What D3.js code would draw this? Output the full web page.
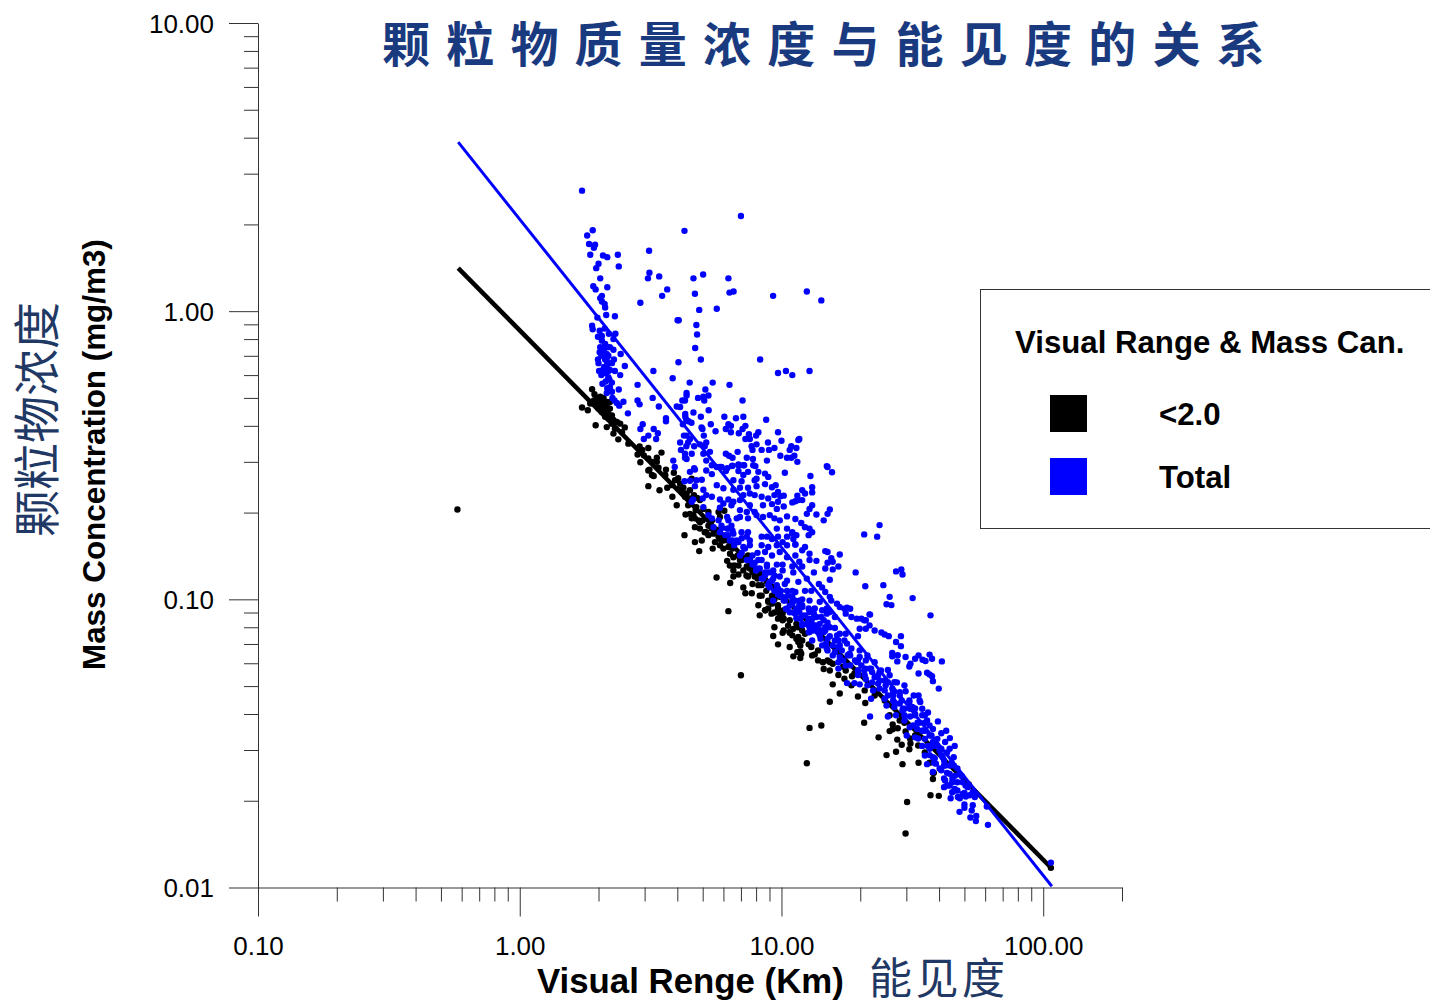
<html lang="en">
<head>
<meta charset="utf-8">
<title>颗粒物质量浓度与能见度的关系</title>
<script src="https://d3js.org/d3.v7.min.js"></script>
<style>
  html, body { margin: 0; padding: 0; background: #fff; overflow: hidden; }
  svg { display: block; }
  text { font-family: "Liberation Sans", Arial, sans-serif; fill: #000; }
  .cjk { font-family: "Noto Sans CJK SC", sans-serif; }
</style>
</head>
<body>
<svg id="chart" width="1430" height="1007"></svg>
<script>
// Values: [visual range km, mass concentration mg/m3]
const below2Points = [
[0.578,0.205],[7.0,0.0545],
[1.89,0.536],[1.93,0.515],[1.73,0.463],[1.82,0.453],[1.95,0.402],[1.86,0.478],[1.92,0.49],
[1.97,0.50],[2.03,0.505],[2.09,0.50],[2.15,0.484],[2.21,0.484],[1.97,0.478],[2.03,0.484],[2.09,0.478],[2.15,0.465],[2.21,0.459],[2.0,0.459],[2.06,0.465],[2.12,0.447],[2.06,0.447],[2.18,0.441],[2.25,0.435],[2.12,0.43],[2.18,0.424],[2.28,0.419],[2.35,0.413],[2.25,0.407],[2.42,0.407],[2.52,0.395],[2.15,0.396],[2.31,0.391],[2.46,0.38],[2.28,0.376],[2.38,0.359],[2.6,0.347],
[2.87,0.339],[3.1,0.335],[2.94,0.33],[2.82,0.318],[3.48,0.323],[3.34,0.31],[3.1,0.308],[3.2,0.3],[2.89,0.299],[3.39,0.286],[3.62,0.282],[3.13,0.282],
[2.98,0.316],[3.34,0.3],[3.1,0.28],[3.2,0.27],[3.25,0.268],[3.88,0.275],[3.1,0.247],[3.42,0.239],[3.66,0.244],[3.83,0.227],[3.98,0.212],
[3.92,0.259],[4.1,0.252],[4.22,0.244],[4.04,0.242],[4.16,0.236],[4.34,0.233],[4.28,0.227],[4.47,0.224],[4.54,0.262],[4.76,0.225],
[4.3,0.197],[4.47,0.198],[4.67,0.191],[4.88,0.185],[4.54,0.191],[4.73,0.209],[5.03,0.206],[5.26,0.201],[4.61,0.196],[4.82,0.188],
[4.67,0.178],[4.88,0.176],[5.09,0.171],[5.26,0.167],[4.26,0.167],[4.67,0.158],[4.96,0.16],[4.85,0.147],[5.57,0.158],[5.46,0.15],[5.75,0.165],
[5.75,0.201],[6.05,0.203],[5.82,0.193],[6,0.15],[6.2,0.136],[6.35,0.131],[6.55,0.126],[6.85,0.131],[7.15,0.126],[7.57,0.128],[7.9,0.12],[7.57,0.137],
[5.65,0.119],[6.37,0.114],[6.55,0.12],[6.85,0.122],[7.45,0.12],[7.75,0.113],[8.16,0.112],[7.15,0.11],[7.28,0.105],[7.7,0.105],[8.4,0.103],[6.27,0.091],
[8.16,0.0954],[8.65,0.0916],[8.26,0.088],[9.2,0.0966],[8.9,0.099],[9.4,0.1],[9.7,0.093],[10.2,0.0916],[9.85,0.0868],[9.7,0.0857],[9.4,0.08],[10.2,0.078],[9.3,0.0746],[10.75,0.077],[11.4,0.073],
[10.1,0.0892],[10.75,0.0846],[11.4,0.0822],[12,0.078],[6.55,0.14],[6.94,0.137],[7.37,0.13],[7.8,0.126],[8.26,0.123],[8.8,0.115],[9.3,0.11],[9.85,0.102],
[5.16,0.171],[5.42,0.176],[5.5,0.169],[5.82,0.162],[6,0.16],[5.82,0.154],[6.27,0.152],
[8.9,0.098],[8.67,0.0916],[9.16,0.0892],[10.75,0.0765],[11,0.075],[9.7,0.0698],[10.75,0.0683],[11.6,0.0711],[11.8,0.0692],[11.5,0.0656],[11.9,0.0648],[11.1,0.0634],[11.8,0.0626],[13.4,0.0644],
[14.5,0.0573],[15.7,0.0507],[16.7,0.0471],[15.3,0.0441],[19.6,0.046],[20.9,0.0437],[18.6,0.0541],[19.6,0.0566],[15,0.0614],[15.7,0.0598],[17.6,0.0566],
[12.8,0.0358],[14.2,0.0365],[12.5,0.027],[20.7,0.0373],[23.5,0.0332],[26.6,0.0368],[27.8,0.0357],[25.9,0.0349],[26.6,0.0354],[27.7,0.0326],[28.8,0.0313],[30.8,0.0302],[31.1,0.0316],[27.4,0.0296],[25.2,0.0288],[29,0.0268],[33.4,0.0271],[29.8,0.0348],[32.4,0.0337],[37.9,0.0238],[37.9,0.0250],[37.1,0.0209],[39.9,0.0208],[30.2,0.0198],[29.8,0.0154],[107,0.0117],[52,0.0228],
[9.85,0.0892],[10.2,0.0857],[11.6,0.08],[12.3,0.076],[13,0.0683],[13.8,0.0665],[15.3,0.0606],[17.2,0.0584],[19,0.0553],
[3.6,0.27],[4.47,0.239],[4.03,0.263],[3.82,0.249],[4.4,0.212],[4.63,0.23],[4.88,0.221],[4.7,0.204],[5,0.188],[5.26,0.18],[5.43,0.188],[5.68,0.174],[5.92,0.167],[6.25,0.16],[6.5,0.15],[6.36,0.144],[6.8,0.142],[7.05,0.137],[7.45,0.142],[6.6,0.131],[7.35,0.121],[7.75,0.124],[8.1,0.118],[8.4,0.112],[8.75,0.107],[8.26,0.103],[9.2,0.103],[8.9,0.093],[9.7,0.0954],[9.4,0.09],[10.1,0.0846],[10.6,0.081],[10.1,0.0765],[11.1,0.079],[11.6,0.074],[12,0.072],[11.8,0.066],[12.7,0.0698],[13.1,0.0639],[13.8,0.0614],[14.4,0.0605],[15.3,0.0566],[16.5,0.0546],[17.4,0.053],[18.5,0.0503],[20.8,0.0483],[22.7,0.0464],[24.8,0.0446],[25.9,0.0396],[28.3,0.038],[29.5,0.0373],[31,0.0329],[33.3,0.0311],[35.3,0.0294],[36.8,0.0271],[38.2,0.025]
];

const totalPoints = [
[1.73,2.62],[7.0,2.14],[1.90,1.91],[1.81,1.83],[4.26,1.9],[1.84,1.71],[1.94,1.70],[1.92,1.66],[3.12,1.62],[1.86,1.57],[2.08,1.56],[2.16,1.54],[2.37,1.57],[2.0,1.46],[2.39,1.43],[1.96,1.41],[3.13,1.36],[3.09,1.30],[3.41,1.32],[5.02,1.34],[4.61,1.30],[6.27,1.30],[2.03,1.30],[6.33,1.16],[6.56,1.17],[4.67,1.15],[9.29,1.13],[12.5,1.17],[14.2,1.09],[3.66,1.19],[3.50,1.13],[2.89,1.07],
[1.91,1.22],[1.95,1.19],[2.16,1.21],[2.06,1.13],[2.03,1.11],[2.06,1.08],[2.11,1.06],[2.12,1.03],[5.66,1.02],[4.85,1.01],[2.14,0.97],[2.31,0.96],[1.98,0.95],[4.01,0.93],[4.05,0.93],[4.73,0.895],[1.89,0.89],[1.90,0.865],[2.02,0.855],[2.11,0.87],[2.19,0.835],[2.32,0.835],[4.76,0.83],[1.99,0.815],[2.06,0.82],[2.28,0.80],[2.06,0.79],[2.12,0.77],
[2.03,0.75],[2.10,0.74],[2.21,0.75],[2.15,0.75],[2.02,0.72],[2.08,0.72],[2.15,0.71],[2.28,0.735],[2.43,0.71],[4.68,0.745],[1.99,0.68],[2.0,0.66],[2.15,0.685],[2.29,0.68],[2.16,0.66],[2.25,0.66],[4.92,0.68],[8.29,0.68],[4.04,0.665],[2.52,0.645],[2.15,0.64],[2.01,0.62],[2.09,0.63],[2.21,0.625],[3.24,0.62],[2.31,0.62],[2.12,0.61],[2.18,0.59],[2.42,0.60],[9.7,0.61],[10.4,0.62],[11.0,0.60],[12.8,0.62],[3.84,0.585],[4.46,0.565],[5.46,0.565],[6.33,0.555],[2.07,0.56],[2.82,0.555],[2.25,0.565],
[2.05,0.7],[2.12,0.68],[2.18,0.7],[2.1,0.64],[2.2,0.66],[2.05,0.6],[2.18,0.62],[2.13,0.57],[2.2,0.58],[2.3,0.49],[2.26,0.5],[2.35,0.48],[2.4,0.47],
[2.21,0.545],[2.16,0.54],[2.39,0.535],[2.25,0.525],[2.15,0.52],[5.12,0.535],[4.34,0.52],[4.34,0.51],[5.26,0.51],[5.03,0.505],[3.22,0.50],[4.80,0.50],[5.07,0.49],[4.28,0.49],[4.18,0.49],[7.1,0.49],[2.82,0.49],[2.87,0.475],[2.49,0.485],[3.40,0.467],[3.98,0.467],[4.1,0.465],[5.27,0.453],[4.61,0.445],[4.29,0.44],[4.29,0.43],[2.59,0.442],[4.92,0.43],[6.05,0.43],[7.15,0.43],[6.7,0.425],[8.74,0.42],[3.62,0.425],[3.62,0.415],[4.33,0.42],[4.41,0.415],[4.53,0.41],[2.95,0.405],[2.89,0.39],[4.2,0.405],[5.37,0.405],[4.95,0.395],[4.99,0.39],
[6.27,0.405],[6.41,0.40],[6.13,0.39],[6.41,0.38],[7.28,0.40],[7.1,0.39],[6.87,0.377],[3.25,0.39],[3.37,0.377],[3.1,0.37],[3.32,0.36],[2.98,0.36],[5.6,0.383],[8.16,0.38],[8.0,0.37],[7.51,0.374],[7.28,0.36],[7.57,0.36],[9.7,0.38],[5.05,0.37],[4.34,0.37],[4.24,0.37],[4.47,0.36],[11.7,0.36],[11.6,0.357],[10.0,0.355],[4.1,0.35],[4.4,0.35],[4.33,0.34],[4.13,0.33],[4.88,0.345],[5.16,0.35],[5.09,0.34],[4.64,0.34],[8.88,0.35],[8.96,0.33],[9.4,0.335],[8.4,0.33],[8.03,0.345],[7.69,0.34],[7.75,0.33],[10.9,0.34],[11.4,0.335],[10.75,0.33],[6.8,0.325],[5.33,0.325],[5.03,0.32],[4.28,0.32],[4.54,0.32],[4.28,0.31],[4.34,0.307],[6.13,0.32],[6.3,0.315],[6.5,0.31],[7.37,0.31],[9.9,0.315],[10.5,0.31],[10.9,0.31],[11.2,0.315],[8.8,0.303],[7.78,0.307],[7.95,0.29],[11.5,0.30],[3.86,0.303],[3.91,0.288],[5.16,0.303],[14.9,0.29],[15.0,0.288],[5.42,0.292],[5.66,0.288],[5.9,0.288],[6.2,0.285],[4.64,0.285],[6.46,0.29],[6.85,0.292],[7.15,0.292],
[15.6,0.276],[10.3,0.275],[12.9,0.268],[13.1,0.245],[13.1,0.235],[12.0,0.239],[12.3,0.233],[11.5,0.229],[12.0,0.221],[11.6,0.221],[11.0,0.217],[11.3,0.219],[13.1,0.212],[12.8,0.206],[10.2,0.21],[15.3,0.205],[15.0,0.198],[13.6,0.197],[12.5,0.198],[14.5,0.188],[10.5,0.194],[11.3,0.19],[11.9,0.184],[12.3,0.178],[12.8,0.176],[13.1,0.171],[12.7,0.167],[9.6,0.176],[10.5,0.176],[10.1,0.158],[11.0,0.171],[11.1,0.162],[11.3,0.155],[20.7,0.168],[23.2,0.165],[23.7,0.181],
[16.7,0.143],[16.5,0.13],[15.7,0.127],[14.7,0.147],[15.0,0.146],[15.5,0.139],[15.0,0.134],[15.7,0.135],[14.7,0.128],[19.2,0.124],[20.9,0.111],[15.3,0.117],
[5.82,0.288],[6.5,0.291],[6.85,0.294],[7.2,0.292],[7.8,0.292],[4.47,0.277],[4.67,0.282],[5.16,0.28],[5.42,0.272],[6.13,0.279],[6.85,0.279],[7.45,0.277],[8.16,0.277],[8.65,0.273],[7.15,0.27],[8.03,0.262],[8.9,0.266],[6.55,0.259],[7.04,0.257],[7.9,0.259],[4.96,0.26],[4.73,0.259],[4.47,0.258],[4.26,0.257],[5.66,0.249],[6.0,0.243],[6.55,0.24],[6.94,0.244],[7.45,0.244],[8.03,0.247],[8.65,0.251],[9.2,0.245],[9.5,0.249],[4.67,0.247],[5.03,0.24],[9.7,0.236],[7.57,0.233],[7.9,0.23],[8.4,0.227],[8.9,0.224],[9.4,0.23],[9.9,0.228],[10.2,0.229],[7.15,0.23],[5.42,0.227],[5.16,0.23],[5.0,0.224],[5.82,0.222],[6.27,0.222],[6.55,0.218],[6.94,0.221],[4.54,0.218],[4.6,0.222],[5.03,0.209],[6.0,0.215],[6.44,0.212],[7.57,0.212],[8.5,0.212],[9.2,0.214],[9.7,0.218],[7.9,0.201],[9.6,0.206],[5.82,0.208],[6.94,0.204],[7.37,0.201],[8.5,0.193],[9.02,0.196],[9.4,0.191],[9.85,0.188],[6.2,0.193],[6.75,0.191],[5.26,0.196],[5.42,0.191],[5.75,0.188],[5.9,0.18],[6.27,0.188],[6.44,0.18],[6.94,0.193],[7.45,0.191],[8.03,0.196],
[5.5,0.178],[5.82,0.171],[6.2,0.176],[6.1,0.167],[6.35,0.160],[6.55,0.169],[7.04,0.171],[7.45,0.171],[7.37,0.165],[6.85,0.158],[7.15,0.152],[7.57,0.16],[8.4,0.165],[8.8,0.165],[9.2,0.162],[9.7,0.165],[10.5,0.165],[11,0.169],[11.4,0.167],[8.4,0.154],[8.9,0.152],[9.6,0.154],[10.5,0.154],[11.3,0.155],[12.3,0.152],[8.65,0.146],[9.2,0.142],[9.85,0.146],[10.5,0.14],[11.3,0.142],[12.0,0.148],[12.8,0.144],[7.37,0.137],[7.75,0.132],[8.16,0.137],[6.94,0.142],[8.8,0.132],[9.6,0.132],[10.1,0.132],[11,0.13],[11.7,0.135],[12.8,0.137],[13.6,0.136],[8.03,0.128],[8.65,0.124],[9.3,0.126],[10.1,0.126],[11.1,0.124],[12,0.13],[13.3,0.124],
[8.5,0.118],[9.2,0.116],[9.85,0.12],[10.5,0.116],[11.6,0.115],[12.5,0.118],[13.9,0.113],[14.3,0.11],[14.7,0.106],[15.3,0.102],[9.02,0.11],[9.7,0.109],[10.5,0.107],[11.3,0.106],[12.3,0.107],[13,0.107],[9.3,0.099],[10.1,0.102],[11,0.102],[11.7,0.099],[12.8,0.099],[14,0.098],[14.9,0.093],[15.5,0.099],[11,0.0966],[11.4,0.0928],[12,0.094],[12.8,0.0904],[13.3,0.0892],[14.3,0.0916],[14.9,0.0892],[11.3,0.0892],[12,0.0878],[12.7,0.0846],[13,0.0835],[14,0.0822],[14.7,0.08],[13.6,0.078],[12.8,0.08],[12,0.0822],
[16.7,0.094],[17.4,0.0928],[17.8,0.0936],[18.3,0.0928],[17.6,0.0892],[18.5,0.0868],[19.4,0.0857],[20.7,0.0846],[21.7,0.0887],[21,0.0791],[22.7,0.078],[19.9,0.0791],[16.7,0.076],[17.6,0.076],[19.6,0.0745],[15.3,0.0904],[16.3,0.0966],[16,0.0868],
[27.4,0.125],[28.7,0.127],[29,0.122],[24.5,0.112],[25.9,0.102],[31.7,0.101],[25.2,0.0961],[26.3,0.0955],[37.1,0.088],[21.8,0.0885],[20.2,0.0857],[21,0.0846],[21.7,0.0812],[24.1,0.0767],[24.8,0.0755],[25.7,0.0745],[28.6,0.0745],[27.4,0.0711],[28.6,0.0688],[26.5,0.0651],[26.5,0.0634],[27.8,0.064],[27.7,0.0609],[29.8,0.0631],[31.1,0.0598],[30.8,0.0585],[32.4,0.0622],[33.4,0.0639],[34.6,0.0617],[35.5,0.0611],[36.8,0.0643],[37.6,0.0622],[41,0.0609],[33.4,0.0553],[36,0.0556],[36.8,0.0549],[37.6,0.0541],[37.9,0.052],[39.9,0.049],[25.5,0.0569],
[11.1,0.099],[12,0.0954],[12.8,0.0916],[11.7,0.0904],[13.6,0.0868],[12.7,0.0857],[14.5,0.0846],[13.3,0.0812],[15.3,0.08],[12.8,0.077],[14.5,0.077],[16.3,0.075],[15,0.073],[14,0.075],[16.5,0.0683],[14.9,0.0674],[17.8,0.0702],[18.2,0.0648],[16.7,0.0631],[19.9,0.0631],[21,0.0614],[19.4,0.0606],[17.6,0.0589],[16.5,0.0575],[22,0.0575],[20.7,0.0566],[23.7,0.0559],[22.7,0.0537],[21,0.0529],[19.6,0.0546],[17.8,0.0512],[19,0.0512],[19.9,0.0507],[21.3,0.0503],[23.4,0.051],[25.5,0.0516],[27,0.0516],[24.8,0.0483],[22.4,0.0483],[26.7,0.0476],[28.3,0.0476],[29.8,0.048],[22,0.0452],[24.8,0.0452],[26.7,0.0446],[28.8,0.0446],[30.8,0.044],[33.4,0.0464],[33.9,0.044],[25.2,0.0428],[27,0.0423],[29.1,0.0417],[31.6,0.0423],[34.5,0.0417],[25.5,0.0392],[27.4,0.0396],[29.5,0.038],[32.4,0.04],[35.3,0.0396],[36,0.038],[21.8,0.0392],[30.9,0.036],[33,0.0355],[34.6,0.035],[37.9,0.0355],[39.6,0.0377],[40.8,0.0343],[42.6,0.035],[44,0.033],[45.9,0.031],[42.2,0.032],[30.1,0.0337],[32.4,0.0332],[35.3,0.0328],[37.9,0.032],[39.4,0.0328],[34.5,0.031],[36.8,0.0303],[40.8,0.0303],[43.9,0.0303],[35.3,0.0287],[37.9,0.0283],[41.3,0.0283],[45.5,0.0283],[36,0.0268],[38.9,0.0269],[42.2,0.0265],[45.5,0.0265],[37.9,0.0252],[40.8,0.0255],[43.9,0.0248],[47.9,0.0248],[42.2,0.0235],[44.9,0.0232],[49.2,0.0232],[41.8,0.0223],[45.9,0.022],[51.5,0.0223],[53.8,0.0214],[44.9,0.0214],[49.2,0.0211],[44.3,0.0204],[47.2,0.0206],[50.6,0.0207],[54.8,0.0206],[60.9,0.0191],[50.0,0.0194],[53.8,0.0193],[47.9,0.0183],[50,0.0189],[53.3,0.0185],[55.5,0.0177],[52.7,0.0175],[55.3,0.0170],[61.5,0.0165],[107,0.0122],
[5.92,0.177],[6.25,0.167],[6.5,0.173],[6.75,0.16],[7.05,0.163],[7.25,0.15],[7.57,0.154],[7.75,0.142],[8.1,0.145],[7.9,0.134],[8.4,0.137],[8.26,0.128],[8.8,0.13],[8.65,0.121],[9.0,0.124],[9.3,0.118],[9.0,0.115],[9.6,0.112],[9.4,0.121],[9.95,0.107],[9.7,0.104],[10.3,0.113],[10.6,0.103],[10.2,0.099],[11,0.107],[11.3,0.099],[10.75,0.095],[11.6,0.0916],[11.1,0.09],[12,0.1],[12.3,0.088],[11.8,0.0857],[12.7,0.093],[13.1,0.0857],[12.6,0.0818],[13.4,0.093],[13.8,0.0812],[13.2,0.078],[14.2,0.0868],[14.7,0.078],[14.1,0.073],[15,0.083],[15.3,0.0745],[14.8,0.0703],[15.7,0.0692],[16,0.0795],[16.5,0.072],[16,0.0655],[17,0.0665],[17.4,0.072],[17.9,0.064],[17.2,0.0614],[18.5,0.0675],[19.1,0.0614],[18.3,0.059],[19.9,0.0665],[20.2,0.059],[19.6,0.0566],[21.3,0.0639],[21.7,0.0575],[20.8,0.0545],[22.7,0.0605],[23.4,0.0545],[22.2,0.0515],[24,0.0566],[24.8,0.0523],[23.7,0.049],[25.9,0.0545],[26.5,0.049],[25.5,0.0464],[27.6,0.0515],[28.3,0.0464],[27,0.0439],[29.5,0.0503],[30.8,0.0446],[29,0.0411],[32,0.0464],[32.4,0.0418],[31,0.0392],[33.7,0.0446],[34.5,0.0396],[33.1,0.0373],[36.3,0.0405],[36.8,0.0365],[35.4,0.035],[31.8,0.0365],[33.3,0.0329],[37.4,0.0337],[39.4,0.0311],[36.8,0.0288],[38.5,0.0281],[40.8,0.0288],[42.9,0.0294],[41.8,0.0276],[40.2,0.0259],[42.9,0.025],[44.7,0.0271],[47,0.0259],[45,0.0239],[47,0.0232],[48.8,0.0244],[43,0.0226],[50.5,0.0226],[46,0.0217],[52.3,0.0209],[48,0.0204],
[10.3,0.099],[10.75,0.0902],[11.4,0.0859],[12,0.0813],[12.7,0.0768],[13.1,0.072],[13.8,0.0768],[14.3,0.0692],[15,0.0665],[15.7,0.0639],[16.5,0.0605],[11.7,0.0954],[12.7,0.0846],[13.4,0.0812],[14.2,0.078],[10.4,0.0928],[11,0.099],[9.85,0.103],[9.4,0.107],[8.9,0.112],[8.4,0.118],[8,0.126],[7.57,0.137],[7.05,0.145],[6.6,0.154],[6.25,0.176],[6.5,0.16],
[16,0.072],[16.7,0.0692],[18.3,0.0639],[19.6,0.0614],[20.9,0.0575],[22.2,0.0559],[23.7,0.0523],[25,0.0503],[26.7,0.0464],[28.3,0.0435],[29.5,0.0417],[31,0.0417],[32.4,0.0396],[29.5,0.0396],[33.7,0.0373],[35.3,0.0373],[36.8,0.0337],[34.5,0.035],[38.3,0.031],[36.3,0.031],[40.2,0.0299],[38.3,0.0271],[41.8,0.0265],[43.9,0.0265],[46,0.0244],[41.8,0.0239],[43.9,0.0226],[47,0.0217],[50,0.0213]
];

// fit lines, end points
const below2Line = [[0.582,1.41],[107.9,0.01164]];
const totalLine = [[0.582,3.86],[107.9,0.0101]];

const xMajor = [0.1, 1, 10, 100];
const yMajor = [0.01, 0.1, 1, 10];
const xMinor = [0.2,0.3,0.4,0.5,0.6,0.7,0.8,0.9,2,3,4,5,6,7,8,9,20,30,40,50,60,70,80,90,200];
const yMinor = [0.02,0.03,0.04,0.05,0.06,0.07,0.08,0.09,0.2,0.3,0.4,0.5,0.6,0.7,0.8,0.9,2,3,4,5,6,7,8,9];
const legendItems = [
    { label: "<2.0", color: "#000" },
    { label: "Total", color: "#00f" }
];

const svg = d3.select("#chart");

const x = d3.scaleLog().domain([0.1, 200]).range([258, 1122]);
const y = d3.scaleLog().domain([0.01, 10]).range([887.5, 23]);

// axes
function styleAxis(g) {
    g.select(".domain").attr("stroke", "#333").attr("stroke-width", 1);
    g.selectAll(".tick line").attr("stroke", "#333").attr("stroke-width", 1);
    g.selectAll(".tick text").style("font-size", "26px").style("font-family", '"Liberation Sans", Arial, sans-serif').attr("fill", "#000");
}

svg.append("g").attr("transform", "translate(0,887.5)")
    .call(d3.axisBottom(x).tickValues(xMinor).tickSize(14).tickSizeOuter(0).tickFormat(""))
    .call(styleAxis);
svg.append("g").attr("transform", "translate(0,887.5)")
    .call(d3.axisBottom(x).tickValues(xMajor).tickSize(29).tickSizeOuter(0).tickPadding(20).tickFormat(d3.format(".2f")))
    .call(styleAxis)
    .call(g => g.select(".domain").remove());

svg.append("g").attr("transform", "translate(258,0)")
    .call(d3.axisLeft(y).tickValues(yMinor).tickSize(14).tickSizeOuter(0).tickFormat(""))
    .call(styleAxis);
svg.append("g").attr("transform", "translate(258,0)")
    .call(d3.axisLeft(y).tickValues(yMajor).tickSize(29).tickSizeOuter(0).tickPadding(15).tickFormat(d3.format(".2f")))
    .call(styleAxis)
    .call(g => g.select(".domain").remove())
    .call(g => g.selectAll(".tick text").attr("dy", "0.36em"));

// points and lines
const line = d3.line().x(d => x(d[0])).y(d => y(d[1]));

svg.append("g").selectAll("circle").data(below2Points).join("circle")
    .attr("cx", d => x(d[0])).attr("cy", d => y(d[1])).attr("r", 3.2).attr("fill", "#000");
svg.append("path").datum(below2Line).attr("d", line)
    .attr("fill", "none").attr("stroke", "#000").attr("stroke-width", 4.5);
svg.append("g").selectAll("circle").data(totalPoints).join("circle")
    .attr("cx", d => x(d[0])).attr("cy", d => y(d[1])).attr("r", 3.2).attr("fill", "#00f");
svg.append("path").datum(totalLine).attr("d", line)
    .attr("fill", "none").attr("stroke", "#00f").attr("stroke-width", 3);

// titles
svg.append("text").attr("class", "cjk")
    .attr("x", 382).attr("y", 62)
    .style("font-size", "48px").style("font-weight", 700)
    .style("letter-spacing", "16.2px").style("fill", "#1a3a80")
    .text("颗粒物质量浓度与能见度的关系");

svg.append("text").attr("x", 537).attr("y", 993)
    .style("font-size", "34.8px").style("font-weight", 700)
    .text("Visual Renge (Km)");
svg.append("text").attr("class", "cjk").attr("x", 869).attr("y", 994)
    .style("font-size", "43px").style("letter-spacing", "3.5px").style("fill", "#1f3864")
    .text("能见度");

svg.append("text").attr("transform", "translate(105,670) rotate(-90)")
    .style("font-size", "31.4px").style("font-weight", 700)
    .text("Mass Concentration (mg/m3)");
svg.append("text").attr("class", "cjk").attr("transform", "translate(54,537) rotate(-90)")
    .style("font-size", "47px").style("fill", "#1f3864")
    .text("颗粒物浓度");

// legend, runs off the right edge of the picture
svg.append("rect").attr("x", 980.5).attr("y", 289.5).attr("width", 500).attr("height", 239)
    .attr("fill", "#fff").attr("stroke", "#333").attr("stroke-width", 1);
svg.append("text").attr("x", 1015).attr("y", 353)
    .style("font-size", "31.2px").style("font-weight", 700)
    .text("Visual Range & Mass Can.");

const legend = svg.append("g").selectAll("g").data(legendItems).join("g")
    .attr("transform", (d, i) => `translate(0,${395 + i * 63})`);
legend.append("rect").attr("x", 1050).attr("width", 37).attr("height", 37).attr("fill", d => d.color);
legend.append("text").attr("x", 1159).attr("y", 30)
    .style("font-size", "31.2px").style("font-weight", 700)
    .text(d => d.label);
</script>
</body>
</html>
